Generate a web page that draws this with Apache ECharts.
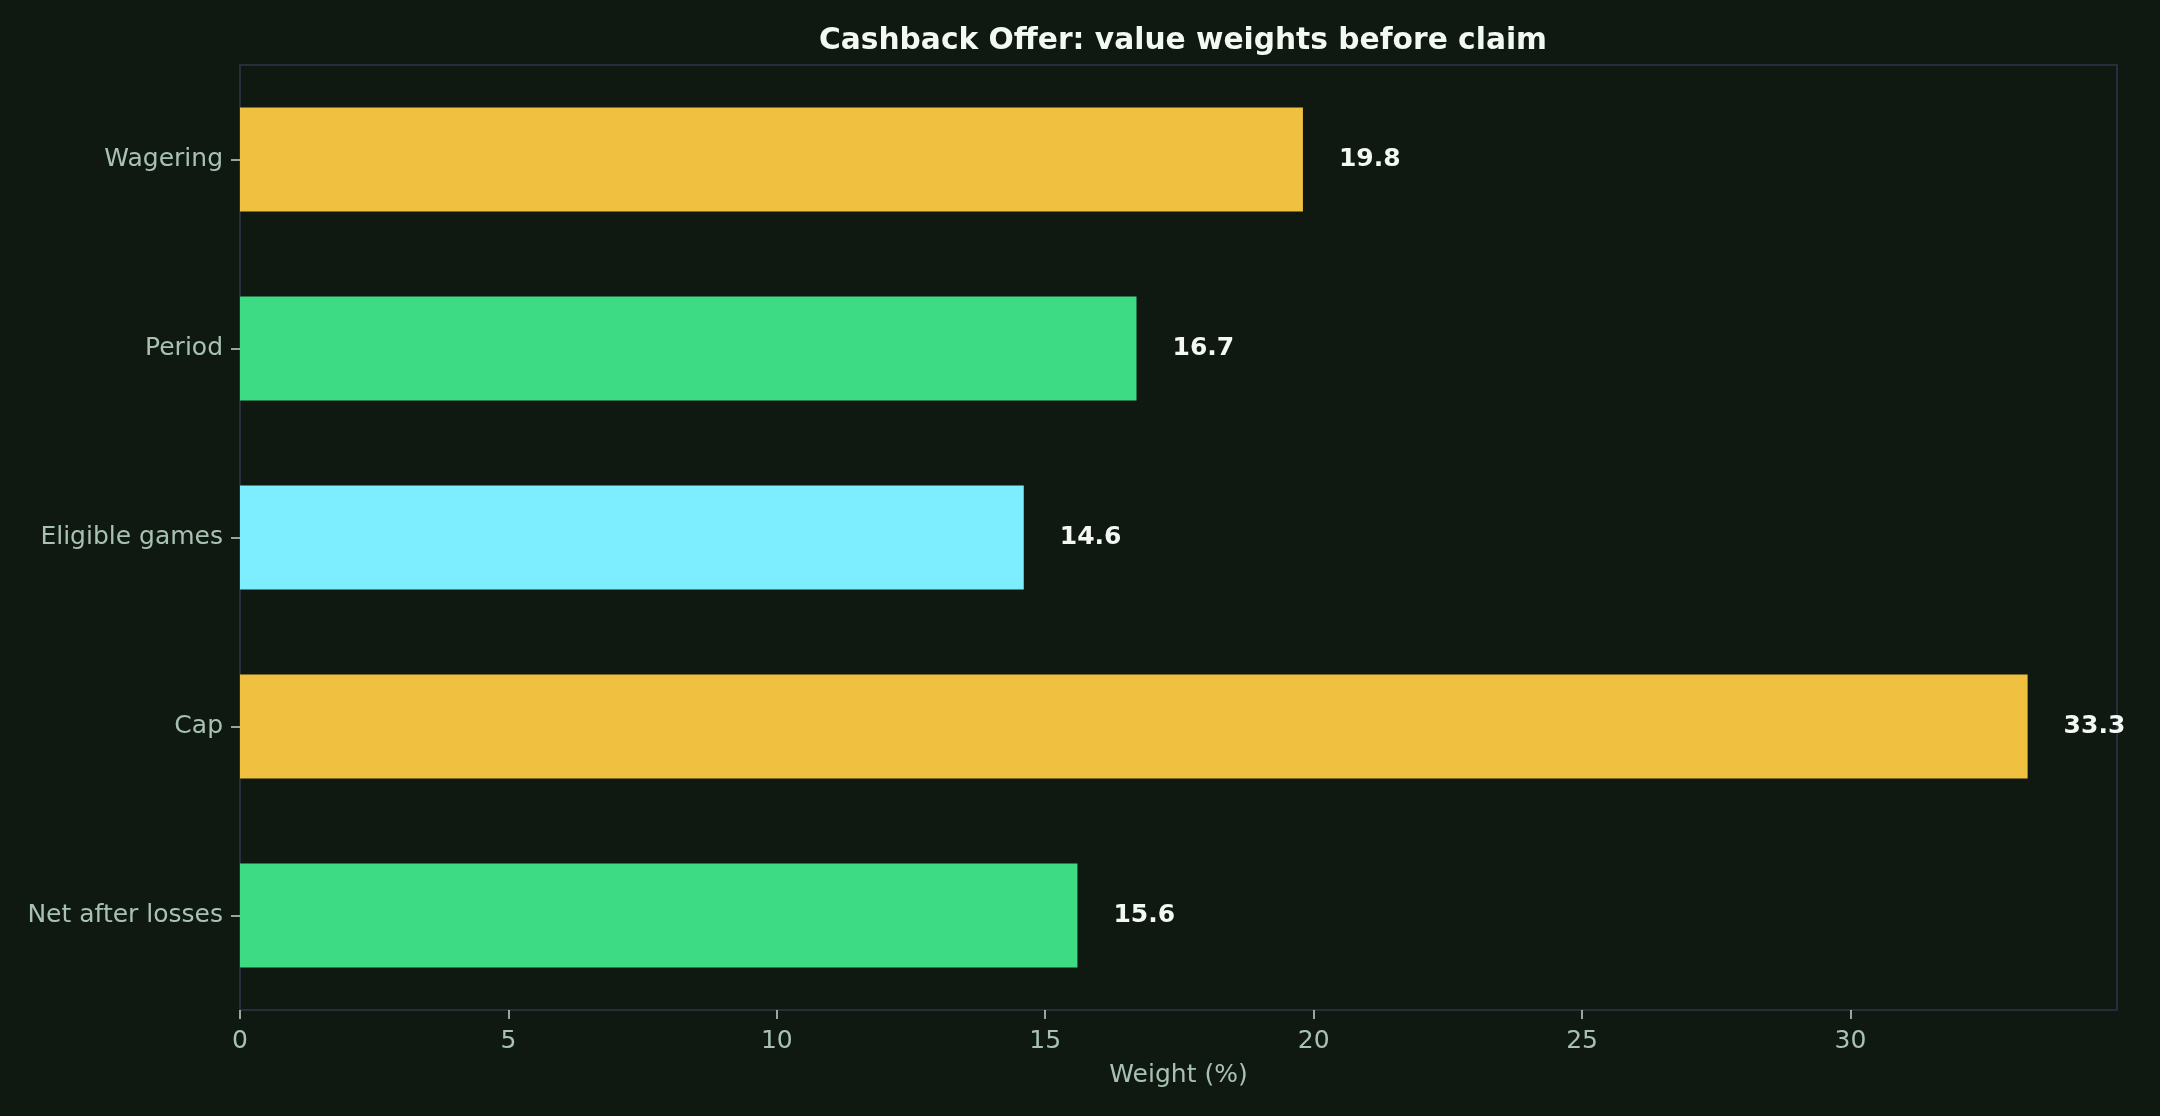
<!DOCTYPE html>
<html>
<head>
<meta charset="utf-8">
<script src="https://cdn.jsdelivr.net/npm/echarts@6/dist/echarts.min.js"></script>
<style>
html,body{margin:0;padding:0;background:#101812;}
#c{width:2160px;height:1116px;}
</style>
</head>
<body>
<div id="c"></div>
<script>
const categories = ["Wagering", "Period", "Eligible games", "Cap", "Net after losses"];
const values = [19.8, 16.7, 14.6, 33.3, 15.6];
const barColors = ["#F0C040", "#3DDC84", "#7DEEFF", "#F0C040", "#3DDC84"];
const xTicks = [0, 5, 10, 15, 20, 25, 30];

const font = "DejaVu Sans";
const labelColor = "#a8c2b2";
const frameColor = "#262d3b";

const chart = echarts.init(document.getElementById('c'), null, {renderer: 'canvas'});
chart.setOption({
  backgroundColor: "#101812",
  animation: false,
  title: {
    text: "Cashback Offer: value weights before claim",
    left: 1178, textAlign: "center", top: 21,
    textStyle: {color: "#f2f8f2", fontFamily: font, fontWeight: "bold", fontSize: 29.7}
  },
  grid: {
    left: 240, right: 43, top: 65, bottom: 106,
    show: true, borderColor: frameColor, borderWidth: 2, backgroundColor: "transparent"
  },
  xAxis: {
    type: "value", min: 0, max: 34.965,
    name: "Weight (%)", nameLocation: "middle", nameGap: 53,
    nameTextStyle: {color: labelColor, fontFamily: font, fontSize: 25},
    axisLine: {show: true, lineStyle: {color: frameColor, width: 2}},
    axisTick: {show: true, length: 9, lineStyle: {color: "#c8d4cc", width: 1.5}, customValues: xTicks},
    axisLabel: {color: labelColor, fontFamily: font, fontSize: 25, margin: 19, customValues: xTicks},
    splitLine: {show: false}
  },
  yAxis: {
    type: "category", data: categories, inverse: true,
    axisLine: {show: true, lineStyle: {color: frameColor, width: 2}},
    axisTick: {show: true, alignWithLabel: true, length: 9, lineStyle: {color: "#c8d4cc", width: 1.5}},
    axisLabel: {color: labelColor, fontFamily: font, fontSize: 25, margin: 17, padding: [5, 0, 0, 0]},
    splitLine: {show: false}
  },
  series: [{
    type: "bar",
    data: values.map((v, i) => ({value: v, itemStyle: {color: barColors[i]}})),
    barWidth: "55%",
    label: {
      show: true, position: "right", distance: 36,
      color: "#f4f8f4", fontFamily: font, fontWeight: "bold", fontSize: 25,
      formatter: p => p.value.toFixed(1)
    }
  }]
});
</script>
</body>
</html>
